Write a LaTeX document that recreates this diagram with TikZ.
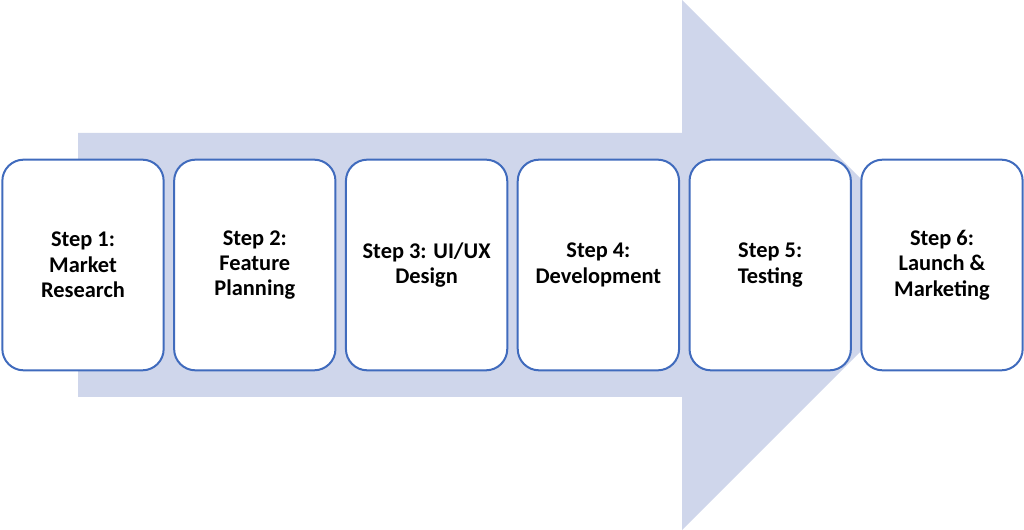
\documentclass[tikz,border=0pt]{standalone}
\usepackage{fontspec}
\setmainfont{Carlito}
\usepackage{xcolor}
\usepackage{tikz}

\definecolor{boxline}{rgb}{0.25,0.42,0.74}
\definecolor{arrowfill}{rgb}{0.81,0.84,0.92}

\tikzset{
  stepbox/.style={draw=boxline, line width=1.5pt, fill=white, rounded corners=16pt,
    minimum width=121pt, minimum height=158pt, align=center, inner sep=0pt,
    font=\fontsize{16.8}{19}\selectfont\bfseries}
}

\begin{document}
\begin{tikzpicture}[x=0.75pt,y=0.75pt,yscale=-1,xscale=1]
\useasboundingbox (0,0) rectangle (1024,530);

%Big arrow
\fill [arrowfill] (78,133) -- (682,133) -- (682,0) -- (947,265) -- (682,530) -- (682,397) -- (78,397) -- cycle;

% Step boxes
\node [stepbox] (step1) at (83,265) {Step 1:\\Market\\Research};
\node [stepbox] (step2) at (254.8,265) {Step 2:\\Feature\\Planning};
\node [stepbox] (step3) at (426.6,265) {Step 3: UI/UX\\Design};
\node [stepbox] (step4) at (598.4,265) {Step 4:\\Development};
\node [stepbox] (step5) at (770.2,265) {Step 5:\\Testing};
\node [stepbox] (step6) at (942,265) {Step 6:\\Launch \&\\Marketing};

\end{tikzpicture}
\end{document}
